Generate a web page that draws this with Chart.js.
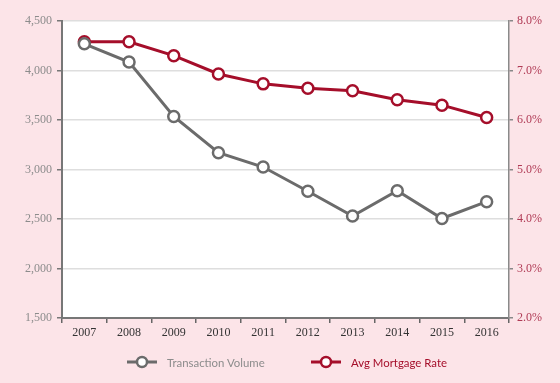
<!DOCTYPE html>
<html>
<head>
<meta charset="utf-8">
<script src="https://cdn.jsdelivr.net/npm/chart.js@4"></script>
<style>
  html, body { margin: 0; padding: 0; background: #fce4e8; }
  #wrap { position: relative; width: 560px; height: 383px; background: #fce4e8; overflow: hidden; }
  canvas { position: absolute; left: 0; top: 0; }
  .lg { position: absolute; top: 354px; height: 16px; display: flex; align-items: center; font-family: Lato, "Open Sans", sans-serif; font-size: 11.4px; white-space: nowrap; }
  .lg svg { margin-right: 10px; }
</style>
</head>
<body>
<div id="wrap">
  <canvas id="c" width="560" height="383"></canvas>
  <div class="lg" id="lg0" style="left:127px;"></div>
  <div class="lg" id="lg1" style="left:311px;"></div>
</div>
<script>
const years = ["2007","2008","2009","2010","2011","2012","2013","2014","2015","2016"];
const transactionVolume = [4270, 4085, 3535, 3170, 3025, 2780, 2530, 2785, 2505, 2675];
const avgMortgageRate = [7.58, 7.58, 7.30, 6.93, 6.73, 6.64, 6.59, 6.41, 6.30, 6.05];
const seriesNames = ["Transaction Volume", "Avg Mortgage Rate"];
const volumeTicks = [1500, 4500, 500];   // min, max, step
const rateTicks = [2, 8, 1];             // min, max, step

const GREY = "#6b6b6b";
const RED = "#a50e2a";
const BG = "#fce4e8";

const bgPlugin = {
  id: "bg",
  beforeDraw(chart) {
    const { ctx, chartArea: a } = chart;
    ctx.save();
    ctx.fillStyle = BG;
    ctx.fillRect(0, 0, chart.width, chart.height);
    ctx.fillStyle = "#ffffff";
    ctx.fillRect(a.left, a.top, a.right - a.left, a.bottom - a.top);
    ctx.restore();
  }
};

const serif = "'Liberation Serif', 'DejaVu Serif', serif";

new Chart(document.getElementById("c"), {
  type: "line",
  data: {
    labels: years,
    datasets: [
      {
        label: seriesNames[0],
        data: transactionVolume,
        yAxisID: "y",
        borderColor: GREY,
        borderWidth: 3,
        pointRadius: 5.5,
        pointBorderWidth: 2.5,
        pointBackgroundColor: "#ffffff",
        pointBorderColor: GREY,
        tension: 0
      },
      {
        label: seriesNames[1],
        data: avgMortgageRate,
        yAxisID: "y1",
        borderColor: RED,
        borderWidth: 3,
        pointRadius: 5.5,
        pointBorderWidth: 2.5,
        pointBackgroundColor: "#ffffff",
        pointBorderColor: RED,
        tension: 0
      }
    ]
  },
  options: {
    responsive: false,
    animation: false,
    devicePixelRatio: 1,
    layout: { padding: { top: 21, left: 0, right: 0, bottom: 41 } },
    plugins: {
      legend: { display: false },
      tooltip: { enabled: false }
    },
    scales: {
      x: {
        offset: true,
        grid: { offset: true, drawOnChartArea: false, tickLength: 5, tickColor: "#666", lineWidth: 1.5 },
        border: { color: "#777", width: 2 },
        ticks: { color: "#333", font: { family: serif, size: 12 }, padding: 3, maxRotation: 0 },
        afterFit(s) { s.height = 24; }
      },
      y: {
        position: "left",
        min: volumeTicks[0], max: volumeTicks[1],
        ticks: {
          stepSize: volumeTicks[2],
          color: "#8c8c8c",
          font: { family: serif, size: 12 },
          padding: 5,
          callback: v => v.toLocaleString("en-US")
        },
        grid: { color: "#dedede", lineWidth: 1.5, tickLength: 5, tickColor: "#777" },
        border: { color: "#777", width: 2 },
        afterFit(s) { s.width = 62; }
      },
      y1: {
        position: "right",
        min: rateTicks[0], max: rateTicks[1],
        ticks: {
          stepSize: rateTicks[2],
          color: "#b03a55",
          font: { family: serif, size: 12 },
          padding: 4,
          callback: v => v.toFixed(1) + "%"
        },
        grid: { drawOnChartArea: false, tickLength: 4, tickColor: "#888", lineWidth: 1.5 },
        border: { color: "#8a8a8a", width: 1.5 },
        afterFit(s) { s.width = 51; }
      }
    }
  },
  plugins: [bgPlugin]
});

function marker(color) {
  return '<svg width="30" height="14" viewBox="0 0 30 14">' +
    '<line x1="0" y1="7" x2="30" y2="7" stroke="' + color + '" stroke-width="3"/>' +
    '<circle cx="15" cy="7" r="5" fill="#fff" stroke="' + color + '" stroke-width="2.5"/></svg>';
}
const lg0 = document.getElementById("lg0");
lg0.innerHTML = marker(GREY) + '<span style="color:#8c8c8c"></span>';
lg0.querySelector("span").textContent = seriesNames[0];
const lg1 = document.getElementById("lg1");
lg1.innerHTML = marker(RED) + '<span style="color:' + RED + '"></span>';
lg1.querySelector("span").textContent = seriesNames[1];
</script>
</body>
</html>
